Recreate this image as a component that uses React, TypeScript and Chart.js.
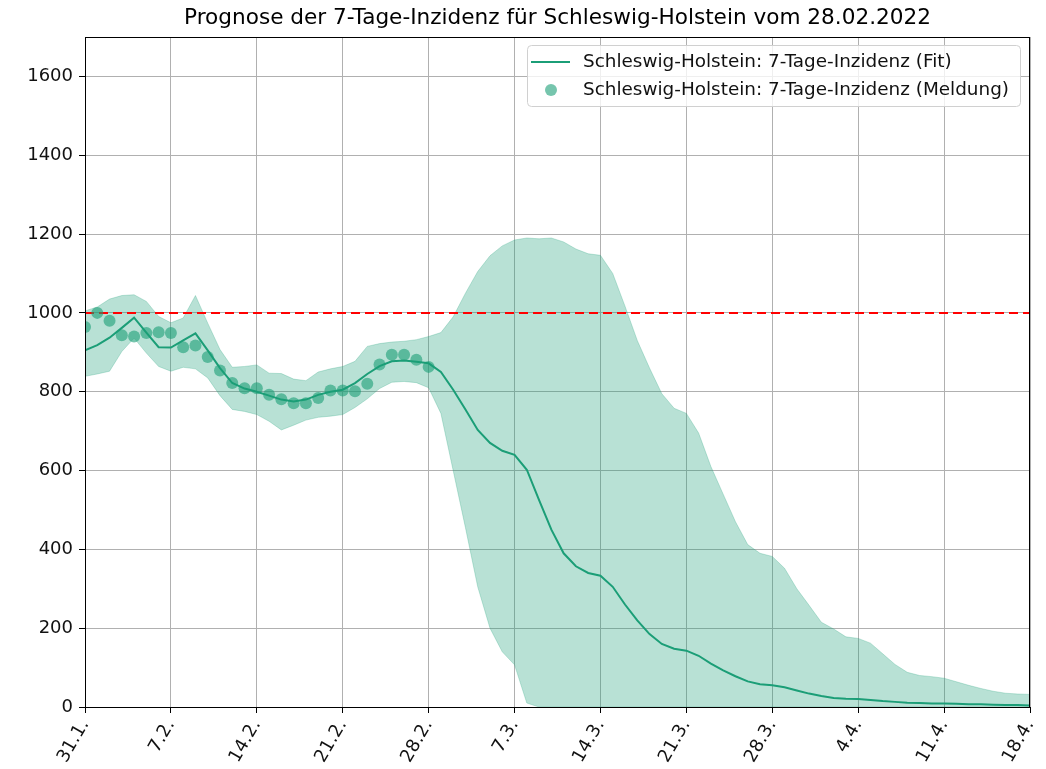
import React, { useEffect, useRef } from "react";
import { Chart, registerables } from "chart.js";

Chart.register(...registerables);

const titleText = "Prognose der 7-Tage-Inzidenz für Schleswig-Holstein vom 28.02.2022";
const tickLabels = ["31.1.", "7.2.", "14.2.", "21.2.", "28.2.", "7.3.", "14.3.", "21.3.", "28.3.", "4.4.", "11.4.", "18.4."];
const legendLabels = [
  "Schleswig-Holstein: 7-Tage-Inzidenz (Fit)",
  "Schleswig-Holstein: 7-Tage-Inzidenz (Meldung)",
];
const threshold = 1000;

// daily values, day 0 = 31.1.
const fitValues = [
  905, 918, 937, 962, 988, 950, 913, 912, 930, 948,
  905, 860, 822, 808, 800, 790, 780, 775, 780, 792,
  800, 805, 822, 845, 865, 877, 879, 876, 872, 850,
  805, 755, 703, 670, 650, 640, 602, 525, 450, 390,
  357, 340, 333, 305, 260, 220, 185, 160, 148, 143,
  130, 110, 93, 78, 65, 58, 55, 50, 42, 34,
  28, 23, 21, 20, 18, 15, 13, 11, 10, 9,
  9, 8, 7, 7, 6, 5, 5, 4,
];
const lowerValues = [
  839, 845, 852, 902, 936, 898, 864, 852, 862, 858,
  835, 790, 755, 750, 742, 725, 703, 715, 728, 735,
  738, 742, 760, 782, 808, 824, 826, 823, 810, 745,
  600, 455, 305, 200, 140, 107, 10, 0, 0, 0,
  0, 0, 0, 0, 0, 0, 0, 0, 0, 0,
  0, 0, 0, 0, 0, 0, 0, 0, 0, 0,
  0, 0, 0, 0, 0, 0, 0, 0, 0, 0,
  0, 0, 0, 0, 0, 0, 0, 0,
];
const upperValues = [
  1005, 1015, 1035, 1044, 1046, 1029, 991, 975, 987, 1044,
  974, 907, 862, 864, 868, 847, 846, 832, 828, 850,
  858, 864, 877, 915, 922, 926, 928, 932, 940, 950,
  990, 1050, 1105, 1145, 1170, 1185, 1190, 1188, 1190, 1180,
  1162, 1150, 1146, 1100, 1017, 930, 860, 795, 758, 745,
  695, 610, 540, 470, 412, 390, 382, 352, 300, 258,
  215, 198, 178, 174, 162, 135, 108, 88, 80, 77,
  73, 64, 55, 47, 40, 35, 33, 32,
];
const reportedValues = [
  964, 1000, 980, 943, 940, 949, 951, 949, 913, 917,
  888, 854, 822, 809, 809, 792, 781, 771, 771, 784,
  803, 803, 801, 820, 869, 894, 894, 881, 863,
];

const GREEN = "#1b9e77";
const FONT = "'DejaVu Sans', sans-serif";

export default function App() {
  const ref = useRef<HTMLCanvasElement | null>(null);
  useEffect(() => {
    if (!ref.current) return;
    const toXY = (arr: number[]) => arr.map((v, i) => ({ x: i, y: v }));
    const lastDay = (tickLabels.length - 1) * 7;

    const decorPlugin = {
      id: "decor",
      afterDraw(chart: any) {
        const { ctx, chartArea } = chart;
        const { left, right, top, bottom } = chartArea;
        ctx.save();
        // frame
        ctx.strokeStyle = "#000";
        ctx.lineWidth = 1;
        ctx.strokeRect(left + 0.5, top + 0.5, right - left - 1, bottom - top);
        // title
        ctx.fillStyle = "#000";
        ctx.font = `21.6px ${FONT}`;
        ctx.textAlign = "center";
        ctx.textBaseline = "middle";
        ctx.fillText(titleText, (left + right) / 2, 18);
        // legend
        const lx = 527, ly = 45, lw = 493, lh = 61;
        ctx.beginPath();
        (ctx as any).roundRect(lx + 0.5, ly + 0.5, lw, lh, 4);
        ctx.fillStyle = "rgba(255,255,255,0.8)";
        ctx.fill();
        ctx.strokeStyle = "#d0d0d0";
        ctx.stroke();
        ctx.strokeStyle = GREEN;
        ctx.lineWidth = 2;
        ctx.beginPath();
        ctx.moveTo(531, 62);
        ctx.lineTo(570, 62);
        ctx.stroke();
        ctx.fillStyle = "rgba(27,158,119,0.6)";
        ctx.beginPath();
        ctx.arc(551, 90, 6, 0, Math.PI * 2);
        ctx.fill();
        ctx.fillStyle = "#111";
        ctx.font = `18.4px ${FONT}`;
        ctx.textAlign = "left";
        ctx.fillText(legendLabels[0], 583, 62);
        ctx.fillText(legendLabels[1], 583, 90);
        ctx.restore();
      },
    };

    const chart = new Chart(ref.current, {
      type: "line",
      data: {
        datasets: [
          {
            label: "lower",
            data: toXY(lowerValues),
            borderColor: "rgba(27,158,119,0.25)",
            borderWidth: 1,
            pointRadius: 0,
            fill: false,
            order: 5,
          },
          {
            label: "upper",
            data: toXY(upperValues),
            borderColor: "rgba(27,158,119,0.25)",
            borderWidth: 1,
            backgroundColor: "rgba(27,158,119,0.31)",
            pointRadius: 0,
            fill: "-1",
            order: 4,
          },
          {
            label: "threshold",
            data: [{ x: 0, y: threshold }, { x: lastDay, y: threshold }],
            borderColor: "#ff0000",
            borderWidth: 2,
            borderDash: [9, 5],
            pointRadius: 0,
            fill: false,
            order: 3,
          },
          {
            label: legendLabels[0],
            data: toXY(fitValues),
            borderColor: GREEN,
            borderWidth: 2,
            pointRadius: 0,
            fill: false,
            order: 2,
          },
          {
            label: legendLabels[1],
            data: toXY(reportedValues),
            showLine: false,
            pointRadius: 6,
            pointBorderWidth: 0,
            pointBackgroundColor: "rgba(27,158,119,0.6)",
            pointBorderColor: "rgba(0,0,0,0)",
            fill: false,
            order: 1,
          },
        ],
      },
      options: {
        animation: false,
        responsive: false,
        events: [],
        layout: { padding: { top: 37, right: 16, left: 0, bottom: 0 } },
        plugins: {
          legend: { display: false },
          title: { display: false },
          tooltip: { enabled: false },
        },
        scales: {
          x: {
            type: "linear",
            min: 0,
            max: lastDay,
            afterFit: (s: any) => {
              s.height = 62;
              s.paddingRight = 0;
              s.paddingLeft = 0;
            },
            ticks: {
              stepSize: 7,
              autoSkip: false,
              minRotation: 60,
              maxRotation: 60,
              color: "#111",
              padding: 3,
              font: { family: FONT, size: 18 },
              callback: (v: any) => tickLabels[Math.round(Number(v) / 7)] ?? "",
            },
            grid: { color: "#b0b0b0", lineWidth: 1, tickLength: 6, tickColor: "#000" },
            border: { color: "#000", width: 1 },
          },
          y: {
            min: 0,
            max: 1700,
            afterFit: (s: any) => {
              s.width = 85;
              s.paddingTop = 0;
              s.paddingBottom = 0;
            },
            ticks: {
              stepSize: 200,
              includeBounds: false,
              color: "#111",
              padding: 6,
              font: { family: FONT, size: 18 },
              callback: (v: any) => String(v),
            },
            grid: { color: "#b0b0b0", lineWidth: 1, tickLength: 6, tickColor: "#000" },
            border: { color: "#000", width: 1 },
          },
        },
      },
      plugins: [decorPlugin],
    });
    return () => chart.destroy();
  }, []);

  return (
    <div style={{ position: "fixed", left: 0, top: 0, width: 1046, height: 769, background: "#fff" }}>
      <canvas ref={ref} width={1046} height={769} />
    </div>
  );
}
